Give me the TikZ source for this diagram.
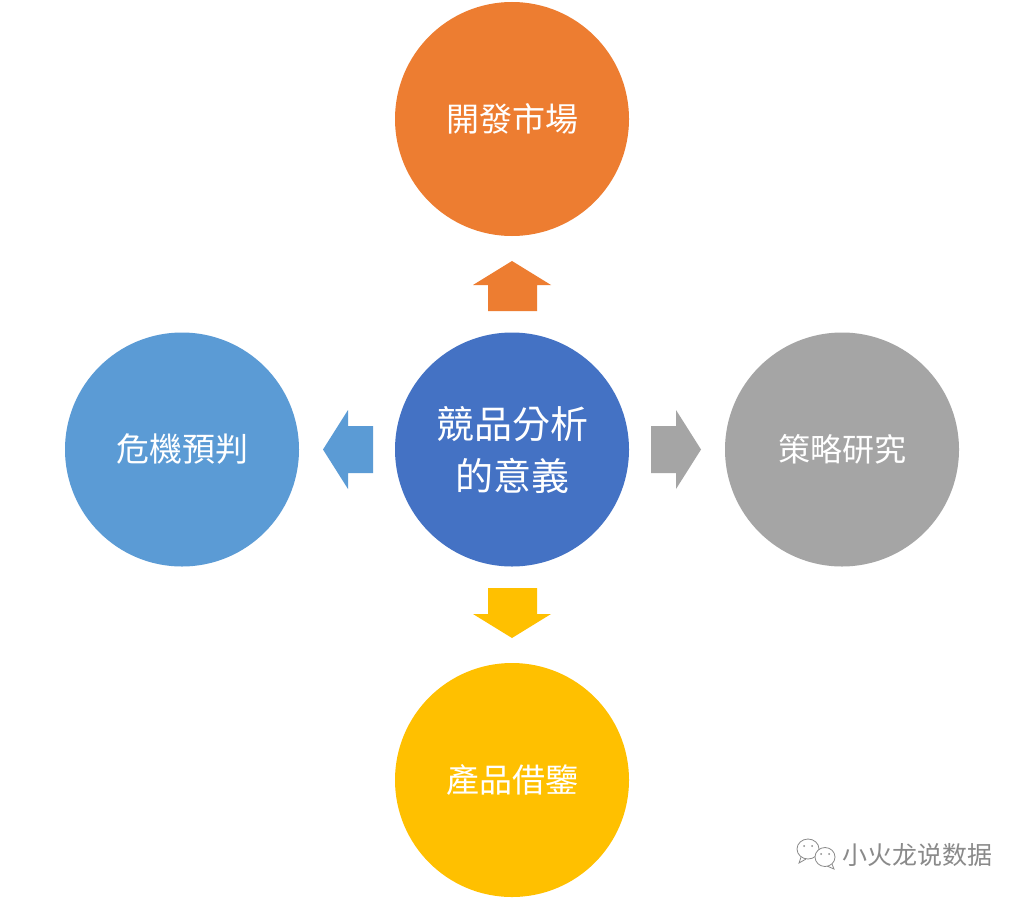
\documentclass[tikz,border=0pt]{standalone}
\usepackage{fontspec}
\newfontfamily\cjk{Noto Sans CJK TC}
\definecolor{corange}{HTML}{ED7D31}
\definecolor{cblue}{HTML}{4472C4}
\definecolor{clight}{HTML}{5B9BD5}
\definecolor{cgray}{HTML}{A5A5A5}
\definecolor{cgold}{HTML}{FFC000}
\definecolor{cmark}{HTML}{8A8A8A}
\begin{document}
\begin{tikzpicture}[x=1pt,y=-1pt,
  disc/.style={circle,minimum size=234pt,inner sep=0pt,text=white,font=\cjk\fontsize{33}{40}\selectfont,align=center},
  bubble/.style={draw=cmark,fill=white,line width=0.8pt},
  dotmark/.style={fill=cmark}]
\useasboundingbox[fill=white] (0,0) rectangle (1024,899);
\node[disc,fill=corange] (top) at (512,119) {\raisebox{-3.5pt}{開發市場}};
\node[disc,fill=cblue,font=\cjk\fontsize{38}{52}\selectfont] (mid) at (512,449.5) {\raisebox{-1pt}{競品分析}\\\raisebox{-1pt}{的意義}};
\node[disc,fill=clight] (left) at (182,449.5) {\raisebox{-1.5pt}{危機預判}};
\node[disc,fill=cgray,font=\cjk\fontsize{32}{40}\selectfont] (right) at (842,449.5) {\raisebox{-1.5pt}{策略研究}};
\node[disc,fill=cgold] (bot) at (512,780) {\raisebox{-3pt}{產品借鑒}};
\fill[corange] (473,285) -- (512,261) -- (551,285) -- (537,285) -- (537,311) -- (488,311) -- (488,285) -- cycle;
\fill[cgold] (473,614) -- (512,638) -- (551,614) -- (537,614) -- (537,588) -- (488,588) -- (488,614) -- cycle;
\fill[clight] (348,410) -- (323,449.5) -- (348,489) -- (348,473) -- (373,473) -- (373,426) -- (348,426) -- cycle;
\fill[cgray] (676,410) -- (701,449.5) -- (676,489) -- (676,473) -- (651,473) -- (651,426) -- (676,426) -- cycle;
% watermark icon
\draw[bubble] (801,857) -- (799,863) -- (806,859);
\draw[bubble] (808,849) ellipse (11 and 10);
\fill[dotmark] (804,846) circle (1);
\fill[dotmark] (812,846) circle (1);
\draw[bubble] (832,864) -- (834,869) -- (827,866);
\draw[bubble] (825,857) ellipse (10 and 9.5);
\fill[dotmark] (821,854) circle (1);
\fill[dotmark] (829,854) circle (1);
\node[font=\cjk\fontsize{25}{28}\selectfont,text=cmark,anchor=west,inner sep=0pt] (wm) at (842,855) {小火龙说数据};
\end{tikzpicture}
\end{document}
